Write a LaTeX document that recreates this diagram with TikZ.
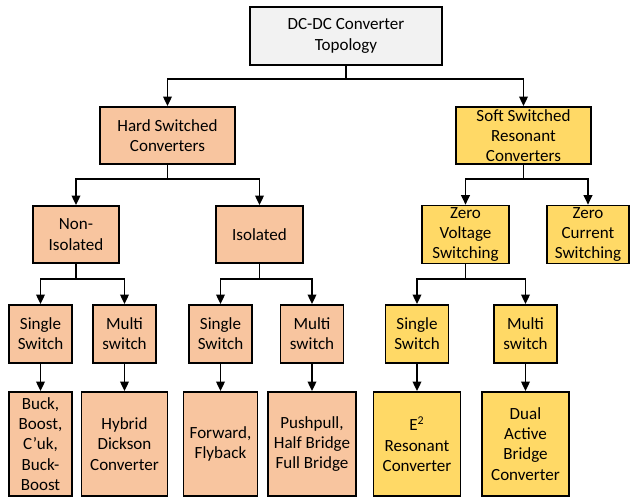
\documentclass[tikz,border=0pt]{standalone}
\usepackage{fontspec}
\setmainfont{Carlito}
\usetikzlibrary{arrows.meta}

\definecolor{hardfill}{HTML}{F8C59F}
\definecolor{softfill}{HTML}{FFD966}
\definecolor{topfill}{HTML}{F2F2F2}

\begin{document}
\begin{tikzpicture}[
    x=0.02cm, y=-0.02cm,
    box/.style={rectangle, draw=black, line width=1pt, align=center, inner sep=1pt, text centered, font=\fontsize{9.7}{11.5}\selectfont},
    topbox/.style={box, fill=topfill},
    hardbox/.style={box, fill=hardfill},
    softbox/.style={box, fill=softfill},
    arrow/.style={line width=1pt, -{Triangle[length=0.19cm, width=0.17cm]}}
]
\useasboundingbox (0,0) rectangle (630,498);

% ROOT
\node[topbox, minimum width=3.84cm, minimum height=1.16cm] (root) at (346,36) {DC-DC Converter\\Topology};

% HARD / SOFT SWITCHED
\node[hardbox, minimum width=2.7cm, minimum height=1.14cm] (hard) at (167.5,135.5) {Hard Switched\\Converters};
\node[softbox, minimum width=2.7cm, minimum height=1.14cm] (soft) at (523.5,135.5) {Soft Switched\\Resonant\\Converters};

% Third level
\node[hardbox, minimum width=1.72cm, minimum height=1.14cm] (noniso) at (76,234.5) {Non-\\Isolated};
\node[hardbox, minimum width=1.74cm, minimum height=1.14cm] (iso) at (259.5,234.5) {Isolated};
\node[softbox, minimum width=1.74cm, minimum height=1.14cm] (zvs) at (465.5,234.5) {Zero\\Voltage\\Switching};
\node[softbox, minimum width=1.64cm, minimum height=1.14cm] (zcs) at (588,234.5) {Zero\\Current\\Switching};

% Switch count
\node[hardbox, minimum width=1.26cm, minimum height=1.16cm] (single1) at (40.5,334) {Single\\Switch};
\node[hardbox, minimum width=1.26cm, minimum height=1.16cm] (multi1) at (124.5,334) {Multi\\switch};
\node[hardbox, minimum width=1.26cm, minimum height=1.16cm] (single2) at (220.5,334) {Single\\Switch};
\node[hardbox, minimum width=1.26cm, minimum height=1.16cm] (multi2) at (312,334) {Multi\\switch};
\node[softbox, minimum width=1.26cm, minimum height=1.16cm] (single3) at (417,334) {Single\\Switch};
\node[softbox, minimum width=1.26cm, minimum height=1.16cm] (multi3) at (525.5,334) {Multi\\switch};

% Converters
\node[hardbox, minimum width=1.26cm, minimum height=2.08cm] (buck) at (40.5,444) {Buck,\\Boost,\\C’uk,\\Buck-\\Boost};
\node[hardbox, minimum width=1.72cm, minimum height=2.08cm] (hybrid) at (124.5,444) {Hybrid\\Dickson\\Converter};
\node[hardbox, minimum width=1.48cm, minimum height=2.08cm] (forward) at (220.5,444) {Forward,\\Flyback};
\node[hardbox, minimum width=1.76cm, minimum height=2.08cm] (pushpull) at (312,444) {Pushpull,\\Half Bridge\\Full Bridge};
\node[softbox, minimum width=1.74cm, minimum height=2.08cm] (etwo) at (417,444) {E\textsuperscript{2}\\Resonant\\Converter};
\node[softbox, minimum width=1.74cm, minimum height=2.08cm] (dab) at (525.5,444) {Dual\\Active\\Bridge\\Converter};

% Tree connectors
\draw[arrow] (root.south) -- ++(0,13) -| (hard.north);
\draw[arrow] (root.south) -- ++(0,13) -| (soft.north);

\draw[arrow] (hard.south) -- ++(0,14) -| (noniso.north);
\draw[arrow] (hard.south) -- ++(0,14) -| (iso.north);
\draw[arrow] (soft.south) -- ++(0,14) -| (zvs.north);
\draw[arrow] (soft.south) -- ++(0,14) -| (zcs.north);

\draw[arrow] (noniso.south) -- ++(0,15) -| (single1.north);
\draw[arrow] (noniso.south) -- ++(0,15) -| (multi1.north);
\draw[arrow] (iso.south) -- ++(0,15) -| (single2.north);
\draw[arrow] (iso.south) -- ++(0,15) -| (multi2.north);
\draw[arrow] (zvs.south) -- ++(0,15) -| (single3.north);
\draw[arrow] (zvs.south) -- ++(0,15) -| (multi3.north);

\draw[arrow] (single1.south) -- (buck.north);
\draw[arrow] (multi1.south) -- (hybrid.north);
\draw[arrow] (single2.south) -- (forward.north);
\draw[arrow] (multi2.south) -- (pushpull.north);
\draw[arrow] (single3.south) -- (etwo.north);
\draw[arrow] (multi3.south) -- (dab.north);

\end{tikzpicture}
\end{document}
